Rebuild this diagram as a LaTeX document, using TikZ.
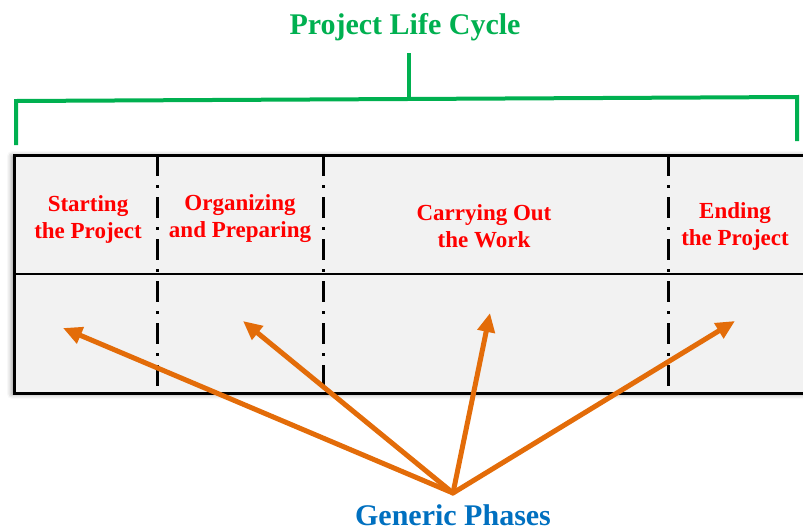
\documentclass[tikz,border=0pt]{standalone}
\usepackage{fontspec}
\setmainfont{Liberation Serif}
\usetikzlibrary{arrows.meta,shadows.blur}
\definecolor{lcgreen}{HTML}{00B050}
\definecolor{phred}{HTML}{FF0000}
\definecolor{arrorange}{HTML}{E36C09}
\definecolor{genblue}{HTML}{0070C0}
\definecolor{boxfill}{HTML}{F2F2F2}
\tikzset{
  phase/.style={text=phred,font=\fontsize{23}{27}\selectfont\bfseries,align=center,inner sep=0pt},
  divider/.style={line width=3pt,dash pattern=on 21pt off 9pt on 3pt off 9pt},
  bracket/.style={draw=lcgreen,line width=4pt},
  phasearrow/.style={draw=arrorange,line width=5pt,-{Triangle[length=19pt,width=17pt]},shorten <=-1pt},
  bigtitle/.style={font=\fontsize{30}{34}\selectfont\bfseries,inner sep=0pt}
}
\begin{document}
\begin{tikzpicture}[x=1pt,y=-1pt]
\useasboundingbox (0,0) rectangle (803,531);
\clip (0,0) rectangle (803,531);
% box
\path[fill=boxfill,blur shadow={shadow xshift=-2pt,shadow yshift=-1pt,shadow blur radius=5pt,shadow opacity=45}] (14,155) rectangle (830,393);
\draw[line width=3pt] (14,155) rectangle (830,393);
\draw[line width=2.5pt] (14,274) -- (830,274);
\foreach \xx in {157,323,668}{
  \draw[divider] (\xx,155) -- (\xx,393);
}
% bracket
\node[bigtitle,text=lcgreen] (title) at (405,27) {Project Life Cycle};
\coordinate (stemtop) at (409,53);
\coordinate (stembot) at (409,99);
\coordinate (bl) at (16,145);
\coordinate (br) at (797,141);
\draw[bracket] (stemtop) -- (stembot);
\draw[bracket,line join=miter] (bl) -- (16,101) -- (797,97) -- (br);
% phases
\node[phase] (p1) at (88,219) {Starting\\the Project};
\node[phase] (p2) at (240,219) {Organizing\\and Preparing};
\node[phase] (p3) at (484,226) {Carrying Out\\the Work};
\node[phase] (p4) at (735,226) {Ending\\the Project};
% arrows
\coordinate (apex) at (453,493);
\coordinate (t1) at (63,328);
\coordinate (t2) at (243,321);
\coordinate (t3) at (490,313);
\coordinate (t4) at (735,321);
\foreach \t in {t1,t2,t3,t4}{
  \draw[phasearrow] (apex) -- (\t);
}
\node[bigtitle,text=genblue] (gen) at (453,515) {Generic Phases};
\end{tikzpicture}
\end{document}
